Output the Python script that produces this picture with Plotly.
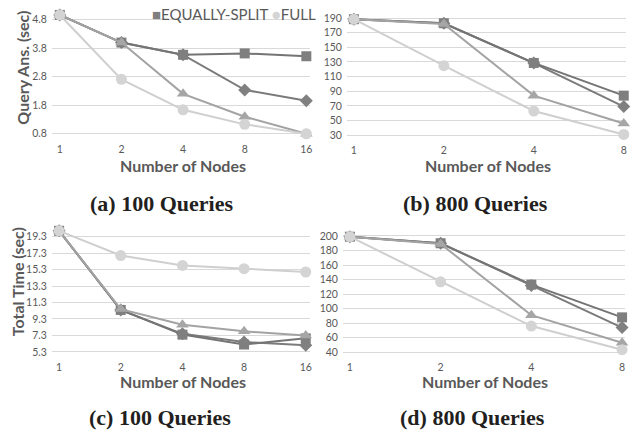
import plotly.graph_objects as go

W, H = 641, 438

nodes_16 = ["1", "2", "4", "8", "16"]
nodes_8 = ["1", "2", "4", "8"]

# (a) Query answering time, 100 queries
a_diamond = [4.97, 4.0, 3.57, 2.34, 1.96]
a_square = [4.97, 4.0, 3.57, 3.62, 3.52]
a_triangle = [4.97, 4.0, 2.2, 1.4, 0.8]
a_circle = [4.97, 2.71, 1.64, 1.13, 0.8]

# (b) Query answering time, 800 queries
b_diamond = [188.5, 183, 128.5, 69]
b_square = [188.5, 183, 128.7, 84]
b_triangle = [188.5, 182, 84, 46]
b_circle = [188.5, 125, 63, 31]

# (c) Total time, 100 queries
c_diamond = [20.0, 10.4, 7.5, 6.5, 6.1]
c_square = [20.0, 10.4, 7.4, 6.2, 6.95]
c_triangle = [20.0, 10.5, 8.6, 7.8, 7.3]
c_circle = [20.0, 17.0, 15.8, 15.4, 15.0]

# (d) Total time, 800 queries
d_diamond = [199, 190, 132, 74]
d_square = [199, 190, 133, 88]
d_triangle = [199, 189, 91, 53]
d_circle = [199, 137, 76, 43.5]

yt_a = [0.8, 1.8, 2.8, 3.8, 4.8]
yt_b = [30, 50, 70, 90, 110, 130, 150, 170, 190]
yt_c = [5.3, 7.3, 9.3, 11.3, 13.3, 15.3, 17.3, 19.3]
yt_d = [40, 60, 80, 100, 120, 140, 160, 180, 200]

series_style = [
    ("Series 1", "diamond", "#7b7b7b", "#808080", 10),
    ("EQUALLY-SPLIT", "square", "#747474", "#7f7f7f", 10),
    ("Series 3", "triangle-up", "#a3a3a3", "#a6a6a6", 11),
    ("FULL", "circle", "#cfcfcf", "#d4d4d4", 11),
]

TICK_COLOR = "#595959"
GRID = "#d9d9d9"

fig = go.Figure()

panels = [
    ("", nodes_16, [a_diamond, a_square, a_triangle, a_circle], yt_a,
     (52, 311), (60, 307.3), (12, 136), (4.8, 19.0), (0.8, 134.3)),
    ("2", nodes_8, [b_diamond, b_square, b_triangle, b_circle], yt_b,
     (348, 628), (355, 625.7), (12, 137), (190, 17.3), (30, 135.7)),
    ("3", nodes_16, [c_diamond, c_square, c_triangle, c_circle], yt_c,
     (52, 311), (59.3, 306.7), (226, 357), (19.3, 238.3), (5.3, 355.0)),
    ("4", nodes_8, [d_diamond, d_square, d_triangle, d_circle], yt_d,
     (344, 627), (351, 624), (230, 357), (200, 237.7), (40, 355.3)),
]

for suffix, cats, data, yticks, xdom, xcat, ydom, (v1, p1), (v2, p2) in panels:
    xa = "x" + suffix
    ya = "y" + suffix
    for (name, sym, lcol, mcol, msz), vals in zip(series_style, data):
        fig.add_trace(go.Scatter(
            x=cats, y=vals, name=name, mode="lines+markers",
            line=dict(color=lcol, width=2),
            marker=dict(symbol=sym, size=msz, color=mcol),
            xaxis=xa, yaxis=ya, showlegend=False, cliponaxis=False,
        ))
    n = len(cats) - 1
    unit = (xcat[1] - xcat[0]) / n
    xr = [(xdom[0] - xcat[0]) / unit, n + (xdom[1] - xcat[1]) / unit]
    k = (v1 - v2) / (p2 - p1)
    yr = [v2 - (ydom[1] - p2) * k, v1 + (p1 - ydom[0]) * k]
    lay_x = "xaxis" + suffix
    lay_y = "yaxis" + suffix
    fig.layout[lay_x] = dict(
        domain=[xdom[0] / W, xdom[1] / W], anchor=ya, type="category",
        range=xr, showgrid=False, zeroline=False, showline=False,
        ticks="", tickfont=dict(family="Lato", size=10.5, color=TICK_COLOR),
        ticklabelstandoff=6, fixedrange=True,
    )
    fig.layout[lay_y] = dict(
        domain=[1 - ydom[1] / H, 1 - ydom[0] / H], anchor=xa,
        range=yr, tickmode="array", tickvals=yticks,
        ticktext=[("%g" % t) for t in yticks],
        showgrid=True, gridcolor=GRID, gridwidth=1, zeroline=False,
        showline=False, ticks="",
        tickfont=dict(family="Lato", size=10.5, color=TICK_COLOR),
        ticklabelstandoff=4, fixedrange=True,
    )

def P(x, y):
    return x / W, 1 - y / H

annotations = []
title_font = dict(family="Lato", size=16, color=TICK_COLOR)
for (x, y) in [(184, 166.5), (490, 166.5), (183.5, 385), (487, 385)]:
    px, py = P(x, y)
    annotations.append(dict(text="<b>Number of Nodes</b>", x=px, y=py,
                            xref="paper", yref="paper", showarrow=False,
                            xanchor="center", yanchor="middle", font=title_font))
for (txt, x, y) in [("Query Ans. (sec)", 22.5, 67), ("Total Time (sec)", 17.5, 284)]:
    px, py = P(x, y)
    annotations.append(dict(text="<b>%s</b>" % txt, x=px, y=py, textangle=-90,
                            xref="paper", yref="paper", showarrow=False,
                            xanchor="center", yanchor="middle", font=title_font))
cap_font = dict(family="Liberation Serif", size=22, color="#231f20")
for (txt, x, y) in [("(a) 100 Queries", 162, 205), ("(b) 800 Queries", 477, 205),
                    ("(c) 100 Queries", 160, 421), ("(d) 800 Queries", 474, 421)]:
    px, py = P(x, y)
    annotations.append(dict(text="<b>%s</b>" % txt, x=px, y=py,
                            xref="paper", yref="paper", showarrow=False,
                            xanchor="center", yanchor="middle", font=cap_font))
px, py = P(150, 13.5)
annotations.append(dict(
    text='<span style="color:#7f7f7f">■</span>EQUALLY-SPLIT <span style="color:#d4d4d4">●</span>FULL',
    x=px, y=py, xref="paper", yref="paper", showarrow=False,
    xanchor="left", yanchor="middle",
    font=dict(family="Lato", size=15, color=TICK_COLOR)))

fig.update_layout(
    width=W, height=H, margin=dict(l=0, r=0, t=0, b=0),
    paper_bgcolor="white", plot_bgcolor="white",
    annotations=annotations, showlegend=False,
)

fig.write_html("out.html", config={"displayModeBar": False},
               post_script="document.body.style.margin='0';document.body.style.overflow='hidden';")
